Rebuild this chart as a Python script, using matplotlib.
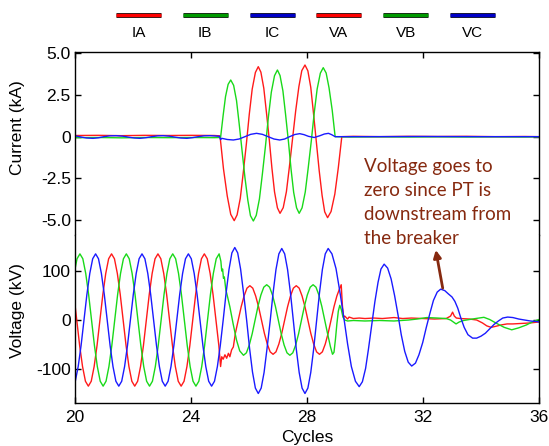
import numpy as np
import matplotlib
matplotlib.use("Agg")
import matplotlib.pyplot as plt
from matplotlib.lines import Line2D
from matplotlib import patheffects as pe

plt.rcParams['font.family'] = ['Liberation Sans', 'DejaVu Sans']

# ---------------- data ----------------
series_names = ['IA', 'IB', 'IC', 'VA', 'VB', 'VC']
x_ticks = [20, 24, 28, 32, 36]
current_ticks = [5.0, 2.5, 0, -2.5, -5.0]
current_tick_labels = ['5.0', '2.5', '0', '-2.5', '-5.0']
voltage_ticks = [100, 0, -100]
voltage_tick_labels = ['100', '0', '-100']

SAMPLE_STEP = 0.1  # cycles between uniformly sampled pre-fault readings

# VA (kV)
va_pre_start = 19.86
va_pre_v = [95, 52, 0, -52, -95, -125, -135, -125, -95, -52, 0, 52, 95, 125, 135, 125,
            95, 52, 0, -52, -95, -125, -135, -125, -95, -52, 0, 52, 95, 125, 135, 125,
            95, 52, 0, -52, -95, -125, -135, -125, -95, -52, 0, 52, 95, 125, 135, 125,
            95, 52, 0, -52]
va_noise_t = [25.02, 25.06, 25.11, 25.17, 25.23, 25.29, 25.34, 25.40, 25.46]
va_noise_v = [-95, -75, -80, -71, -78, -68, -75, -61, -55]
va_post_start = 25.53
va_post_v = [-27, 0, 27, 49, 65, 70, 65, 49, 27, 0, -27, -49, -65, -70, -65, -49,
             -27, 0, 27, 49, 65, 70, 65, 49, 27, 0, -27, -49, -65, -70, -65, -49,
             -27, 0, 27, 49, 65]
va_tail_t = [29.18, 29.22, 29.26, 29.30, 29.40, 29.45, 29.6, 29.8, 30.0, 30.3, 30.6, 31.0,
             31.3, 31.6, 32.0, 32.4, 32.8, 32.95, 33.02, 33.08, 33.15, 33.3, 33.6, 33.85,
             34.05, 34.2, 34.35, 34.5, 34.7, 34.9, 35.1, 35.4, 35.7, 36.0]
va_tail_v = [72, 30, 6, 8, 2, 6, 3, 4, 3, 4, 3, 5, 3, 4, 3, 2, 3, 8, 16, 8, 4, 3, 2, 0,
             -6, -12, -15, -13, -10, -8, -8, -7, -6, -4]

# VB (kV)
vb_pre_start = 19.87
vb_pre_v = [52, 95, 125, 135, 125, 95, 52, 0, -52, -95, -125, -135, -125, -95, -52, 0,
            52, 95, 125, 135, 125, 95, 52, 0, -52, -95, -125, -135, -125, -95, -52, 0,
            52, 95, 125, 135, 125, 95, 52, 0, -52, -95, -125, -135, -125, -95, -52, 0,
            52, 95, 125, 135]
vb_trans_t = [25.03, 25.06, 25.09, 25.12, 25.15, 25.20, 25.27, 25.34, 25.45, 25.57, 25.68]
vb_trans_v = [120, 100, 104, 85, 88, 62, 45, 27, -7, -41, -63]
vb_post_start = 25.81
vb_post_v = [-72, -67, -51, -28, 0, 28, 51, 67, 72, 67, 51, 28, 0, -28, -51, -67,
             -72, -67, -51, -28, 0, 28, 51, 67, 72, 67, 51, 28, 0, -28]
vb_tail_t = [28.81, 28.88, 28.93, 28.98, 29.03, 29.08, 29.13, 29.18, 29.24, 29.30, 29.40,
             29.6, 30.0, 30.5, 31.0, 31.5, 31.8, 32.13, 32.5, 32.8, 32.95, 33.14, 33.25,
             33.4, 33.7, 34.1, 34.3, 34.54, 34.8, 35.06, 35.3, 35.57, 35.8, 36.0]
vb_tail_v = [-55, -70, -66, -40, -8, 18, 30, 22, 6, 0, -2, -1, -2, -1, -2, 0, 2, 5, 4, 3,
             0, -8, -4, -1, 2, 5.5, 1, -7, -15, -20, -16, -10, -3, 1]

# VC (kV)
vc_pre_start = 19.91
vc_pre_v = [-135, -125, -95, -52, 0, 52, 95, 125, 135, 125, 95, 52, 0, -52, -95, -125,
            -135, -125, -95, -52, 0, 52, 95, 125, 135, 125, 95, 52, 0, -52, -95, -125,
            -135, -125, -95, -52, 0, 52, 95, 125, 135, 125, 95, 52, 0, -52, -95, -125,
            -135, -125, -95, -52, 0, 55, 103, 137]
vc_post_t = [25.51, 25.61, 25.71, 25.81, 25.92, 26.02, 26.12, 26.22,
             26.32, 26.42, 26.52, 26.62, 26.73, 26.83, 26.93, 27.03,
             27.13, 27.23, 27.33, 27.43, 27.53, 27.63, 27.73, 27.83,
             27.93, 28.03, 28.13, 28.23, 28.33, 28.43, 28.53, 28.63,
             28.73, 28.86, 29.00, 29.13, 29.27, 29.40, 29.53, 29.67,
             29.80, 29.91, 30.02, 30.12, 30.23, 30.34, 30.45, 30.55,
             30.66, 30.78, 30.90, 31.02, 31.14, 31.25, 31.37, 31.49,
             31.61, 31.74, 31.86, 31.99, 32.11, 32.24, 32.36, 32.49,
             32.61, 32.75, 32.88, 33.0, 33.1, 33.2, 33.3, 33.42, 33.55, 33.71, 33.85,
             34.0, 34.15, 34.3, 34.45, 34.6, 34.75, 34.92, 35.1, 35.3, 35.5, 35.7, 35.9, 36.0]
vc_post_v = [148, 137, 104, 56, -1, -58, -106, -139,
             -150, -139, -107, -59, -2, 55, 103, 135,
             146, 135, 103, 55, -2, -59, -107, -139,
             -150, -139, -107, -59, -2, 55, 103, 135,
             146, 135, 105, 59, 5, -49, -95, -125,
             -136, -126, -99, -59, -11, 37, 77, 104,
             114, 106, 84, 50, 10, -30, -64, -86,
             -94, -88, -71, -46, -16, 14, 40, 57,
             63, 60, 53, 47, 38, 24, 5, -15, -30, -37, -37,
             -33, -27, -18, -9, -2, 4, 6, 5, 2, 0, -2, -3, -4]

# IA (kA)
ia_t = [20.0, 20.8, 21.6, 22.4, 23.2, 24.0, 24.8, 25.0,
        25.12, 25.25, 25.37, 25.49,
        25.59, 25.70, 25.80, 25.91, 26.01, 26.11, 26.22, 26.32,
        26.41, 26.51, 26.60, 26.70, 26.79, 26.88, 26.98, 27.07,
        27.18, 27.29, 27.39, 27.50, 27.61, 27.72, 27.82, 27.93,
        28.03, 28.13, 28.22, 28.32, 28.42, 28.52, 28.61, 28.71,
        28.83, 28.96, 29.08, 29.20,
        29.6, 30.5, 31.5, 32.5, 33.5, 34.5, 35.5, 36.0]
ia_v = [0.07, 0.08, 0.06, 0.08, 0.07, 0.08, 0.07, 0.05,
        -1.93, -3.56, -4.66, -5.04,
        -4.69, -3.69, -2.19, -0.42, 1.35, 2.85, 3.85, 4.2,
        3.87, 2.91, 1.48, -0.2, -1.88, -3.31, -4.27, -4.6,
        -4.26, -3.30, -1.85, -0.15, 1.55, 3.0, 3.96, 4.3,
        3.95, 2.96, 1.47, -0.28, -2.03, -3.52, -4.51, -4.86,
        -4.49, -3.44, -1.86, 0.0,
        0.02, 0.0, 0.02, 0.01, 0.02, 0.0, 0.01, 0.0]

# IB (kA)
ib_t = [20.0, 20.8, 21.6, 22.4, 23.2, 24.0, 24.8, 25.02,
        25.11, 25.19, 25.28, 25.37,
        25.47, 25.57, 25.66, 25.76, 25.86, 25.96, 26.05, 26.15,
        26.25, 26.36, 26.46, 26.57, 26.67, 26.77, 26.88, 26.98,
        27.07, 27.17, 27.26, 27.36, 27.45, 27.54, 27.64, 27.73,
        27.83, 27.94, 28.04, 28.15, 28.25, 28.35, 28.46, 28.56,
        28.66, 28.76, 28.87, 28.97,
        29.5, 30.5, 31.5, 32.5, 33.5, 34.5, 35.5, 36.0]
ib_v = [-0.06, -0.05, -0.07, -0.05, -0.06, -0.05, -0.06, -0.05,
        1.30, 2.40, 3.14, 3.4,
        3.08, 2.16, 0.79, -0.83, -2.45, -3.82, -4.74, -5.06,
        -4.72, -3.73, -2.26, -0.53, 1.20, 2.67, 3.66, 4.0,
        3.67, 2.74, 1.35, -0.3, -1.95, -3.34, -4.27, -4.6,
        -4.27, -3.32, -1.90, -0.23, 1.44, 2.86, 3.81, 4.14,
        3.82, 2.93, 1.58, 0.0,
        -0.02, -0.01, -0.02, -0.01, -0.02, -0.01, -0.02, -0.01]

# IC (kA)
ic_t = [20.0, 20.2, 20.4, 20.62, 20.8, 21.0, 21.2, 21.42, 21.65, 21.85,
        22.05, 22.24, 22.45, 22.65, 22.85, 23.04, 23.25, 23.45, 23.65, 23.86,
        24.05, 24.25, 24.45, 24.66, 24.85, 24.98, 25.02, 25.06, 25.12, 25.25,
        25.46, 25.66, 25.86, 26.06, 26.26, 26.46, 26.66, 26.86, 27.06, 27.23,
        27.4, 27.58, 27.75, 27.9, 28.05, 28.25, 28.45, 28.6, 28.74, 28.85,
        28.97, 30.0, 32.0, 34.0, 36.0]
ic_v = [0.05, -0.02, -0.08, -0.1, -0.07, 0.0, 0.05, 0.06, 0.03, -0.03,
        -0.08, -0.1, -0.06, 0.0, 0.05, 0.06, 0.03, -0.03, -0.08, -0.1,
        -0.06, 0.0, 0.05, 0.06, 0.04, 0.02, -0.18, -0.1, -0.12, -0.17,
        -0.2, -0.14, 0.0, 0.14, 0.2, 0.14, 0.0, -0.14, -0.2, -0.14,
        0.0, 0.13, 0.18, 0.12, 0.02, -0.05, 0.06, 0.16, 0.2, 0.12,
        0.0, 0.0, 0.01, 0.0, 0.0]

annotation_text = "Voltage goes to\nzero since PT is\ndownstream from\nthe breaker"
arrow_head = (32.44, 143)
arrow_tail = (32.68, 65)


def grid_times(start, values):
    return start + SAMPLE_STEP * np.arange(len(values))


va_t = np.concatenate([grid_times(va_pre_start, va_pre_v), va_noise_t,
                       grid_times(va_post_start, va_post_v), va_tail_t])
va_v = np.concatenate([va_pre_v, va_noise_v, va_post_v, va_tail_v])
vb_t = np.concatenate([grid_times(vb_pre_start, vb_pre_v), vb_trans_t,
                       grid_times(vb_post_start, vb_post_v), vb_tail_t])
vb_v = np.concatenate([vb_pre_v, vb_trans_v, vb_post_v, vb_tail_v])
vc_t = np.concatenate([grid_times(vc_pre_start, vc_pre_v), vc_post_t])
vc_v = np.concatenate([vc_pre_v, vc_post_v])

# ---------------- styling ----------------
RED, GREEN, BLUE = '#ff1a1a', '#19d919', '#1a1aff'
LEG_COLORS = ['#ff0000', '#009a00', '#0000c8', '#ff0000', '#009a00', '#0000c8']
ANN_COLOR = '#86290f'

fig = plt.figure(figsize=(5.49, 4.46), dpi=100)
W, H = 549.0, 446.0
left, right = 75 / W, 539 / W
y_top, y_mid, y_bot = 1 - 52 / H, 1 - 235 / H, 1 - 403 / H
ax1 = fig.add_axes([left, y_mid, right - left, y_top - y_mid])
ax2 = fig.add_axes([left, y_bot, right - left, y_mid - y_bot], sharex=ax1)

lw = 1.0
ax1.plot(ia_t, ia_v, color=RED, lw=lw)
ax1.plot(ib_t, ib_v, color=GREEN, lw=lw)
ax1.plot(ic_t, ic_v, color=BLUE, lw=lw)
ax2.plot(va_t, va_v, color=RED, lw=lw)
ax2.plot(vb_t, vb_v, color=GREEN, lw=lw)
ax2.plot(vc_t, vc_v, color=BLUE, lw=lw)

ax1.set_xlim(20, 36)
ax1.set_ylim(-5.9, 5.08)
ax2.set_ylim(-169.4, 173.5)

ax1.spines['bottom'].set_visible(False)
ax2.spines['top'].set_visible(False)
for ax in (ax1, ax2):
    for s in ax.spines.values():
        s.set_linewidth(1.0)

ax1.set_yticks(current_ticks)
ax1.set_yticklabels(current_tick_labels)
ax2.set_yticks(voltage_ticks)
ax2.set_yticklabels(voltage_tick_labels)
ax2.set_xticks(x_ticks)
ax2.set_xticklabels([str(t) for t in x_ticks])

ax1.tick_params(axis='both', direction='in', top=True, bottom=False, right=True,
                labelbottom=False, length=4, width=1, labelsize=12.5, pad=3)
ax2.tick_params(axis='both', direction='in', top=False, bottom=True, right=True,
                length=4, width=1, labelsize=12.5, pad=3)
ax2.tick_params(axis='x', pad=5)

ax1.set_ylabel('Current (kA)', fontsize=12.5)
ax1.yaxis.set_label_coords(-0.108, 0.587)
ax2.set_ylabel('Voltage (kV)', fontsize=12.5)
ax2.yaxis.set_label_coords(-0.108, 0.548)
ax2.set_xlabel('Cycles', fontsize=12.5)
ax2.xaxis.set_label_coords(0.5, -0.158)

# annotation text and arrow
fig.text(364 / W, 1 - 158 / H, annotation_text, family=['Lato', 'DejaVu Sans'],
         fontsize=13.5, color=ANN_COLOR, va='top', ha='left', linespacing=1.5)
ax2.annotate('', xy=arrow_head, xytext=arrow_tail, annotation_clip=False,
             arrowprops=dict(arrowstyle='-|>', color=ANN_COLOR, lw=2,
                             mutation_scale=11, shrinkA=0, shrinkB=0))

# legend across the top
for i, (name, col) in enumerate(zip(series_names, LEG_COLORS)):
    cx = (138.5 + 66.8 * i) / W
    ln = Line2D([cx - 22.5 / W, cx + 22.5 / W], [1 - 15 / H, 1 - 15 / H],
                transform=fig.transFigure, color=col, lw=2.4, solid_capstyle='butt',
                path_effects=[pe.Stroke(linewidth=3.6, foreground='#202020'), pe.Normal()])
    fig.add_artist(ln)
    fig.text(cx, 1 - 33 / H, name, ha='center', va='center', fontsize=11)

fig.savefig('out.png', dpi=100)
